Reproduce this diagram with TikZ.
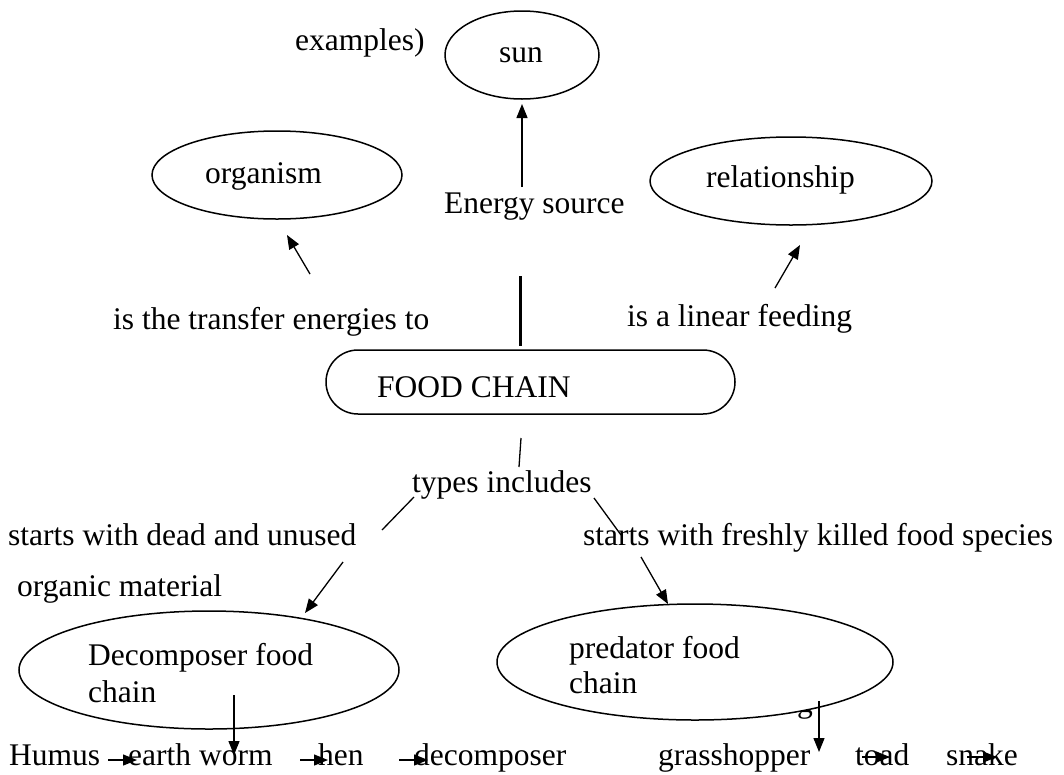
\documentclass[tikz,border=0pt]{standalone}
\usepackage{fontspec}
\setmainfont{Liberation Serif}
\usetikzlibrary{shapes.geometric, arrows.meta}

\begin{document}
\begin{tikzpicture}[x=1pt, y=-1pt,
  lbl/.style={inner sep=0pt, anchor=base west, font=\fontsize{31.5}{37}\selectfont},
  oval/.style={draw, ellipse, line width=1.5pt, fill=white, inner sep=0pt},
  arr/.style={line width=1.3pt, -{Triangle[length=14pt,width=11pt]}},
  link/.style={line width=1.3pt}]
\useasboundingbox (0,0) rectangle (1064,774);

% stray letter partly hidden by the predator oval
\node[lbl] (gfrag) at (797,712) {g};

% ovals
\node[oval, minimum width=154pt, minimum height=88pt] (sun) at (522,55) {};
\node[oval, minimum width=250pt, minimum height=88pt] (organism) at (277,175) {};
\node[oval, minimum width=282pt, minimum height=88pt] (relation) at (791,181) {};
\node[oval, minimum width=380pt, minimum height=118pt] (decomp) at (209,670) {};
\node[oval, minimum width=396pt, minimum height=116pt] (pred) at (695,662) {};

% central box
\node[draw, line width=1.5pt, rounded corners=32pt, minimum width=409pt,
      minimum height=64pt, inner sep=0pt] (chain) at (530.5,382) {};

% texts
\node[lbl] (examples) at (295,50) {examples)};
\node[lbl] (suntxt) at (499,62) {sun};
\node[lbl] (orgtxt) at (205,183) {organism};
\node[lbl] (reltxt) at (706,187) {relationship};
\node[lbl] (energy) at (444,213) {Energy source};
\node[lbl] (transfer) at (113,329) {is the transfer energies to};
\node[lbl] (linear) at (627,326) {is a linear feeding};
\node[lbl] (chaintxt) at (377,397) {FOOD CHAIN};
\node[lbl] (types) at (412,492) {types includes};
\node[lbl] (dead) at (8,545) {starts with dead and unused};
\node[lbl] (fresh) at (583,545) {starts with freshly killed food species};
\node[lbl] (organic) at (17,596) {organic material};
\node[lbl] (decompA) at (88,665) {Decomposer food};
\node[lbl] (decompB) at (88,702) {chain};
\node[lbl] (predA) at (569,658) {predator food};
\node[lbl] (predB) at (569,693) {chain};

% bottom chains
\node[lbl] (humus) at (9,765) {Humus};
\node[lbl] (worm) at (128,765) {earth worm};
\node[lbl] (hen) at (318,765) {hen};
\node[lbl] (decomposer) at (414,765) {decomposer};
\node[lbl] (grass) at (658,765) {grasshopper};
\node[lbl] (toad) at (855,765) {toad};
\node[lbl] (snake) at (946,765) {snake};

% connector end points
\coordinate (sunT) at (522,187);   \coordinate (sunH) at (522,104);
\coordinate (orgT) at (310,274);   \coordinate (orgH) at (287,235);
\coordinate (relT) at (775,288);   \coordinate (relH) at (800,245);
\coordinate (barT) at (520,276);   \coordinate (barB) at (520,346);
\coordinate (stubT) at (521,438);  \coordinate (stubB) at (519,467);
\coordinate (lfA) at (414,497);    \coordinate (lfB) at (382,530);
\coordinate (rtA) at (594,498);    \coordinate (rtB) at (621,535);
\coordinate (laT) at (343,562);    \coordinate (laH) at (305,613);
\coordinate (raT) at (641,557);    \coordinate (raH) at (668,604);
\coordinate (dT) at (234,695);     \coordinate (dH) at (234,755);
\coordinate (pT) at (819,701);     \coordinate (pH) at (819,752);
\coordinate (b1T) at (108,760);    \coordinate (b1H) at (137,760);
\coordinate (b2T) at (300,760);    \coordinate (b2H) at (328,760);
\coordinate (b3T) at (399,760);    \coordinate (b3H) at (428,760);
\coordinate (b4T) at (862,757);    \coordinate (b4H) at (890,757);
\coordinate (b5T) at (967,757);    \coordinate (b5H) at (997,757);

% connectors
\draw[arr] (sunT) -- (sunH);
\draw[arr] (orgT) -- (orgH);
\draw[arr] (relT) -- (relH);
\draw[line width=3pt] (barT) -- (barB);
\draw[link] (stubT) -- (stubB);
\draw[link] (lfA) -- (lfB);
\draw[link] (rtA) -- (rtB);
\draw[arr] (laT) -- (laH);
\draw[arr] (raT) -- (raH);
\draw[arr] (dT) -- (dH);
\draw[arr] (pT) -- (pH);
\draw[arr] (b1T) -- (b1H);
\draw[arr] (b2T) -- (b2H);
\draw[arr] (b3T) -- (b3H);
\draw[arr] (b4T) -- (b4H);
\draw[arr] (b5T) -- (b5H);
\end{tikzpicture}
\end{document}
